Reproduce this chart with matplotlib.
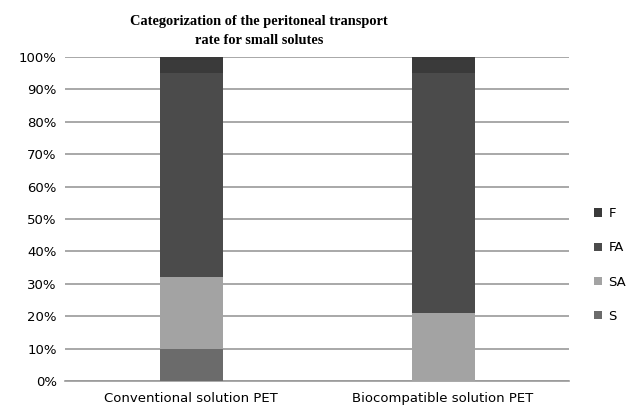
import matplotlib.pyplot as plt
import numpy as np

groups = ["Conventional solution PET", "Biocompatible solution PET"]
series = ["S", "SA", "FA", "F"]
s_vals = [10, 0]
sa_vals = [22, 21]
fa_vals = [63, 74]
f_vals = [5, 5]
colors = ["#6b6b6b", "#a3a3a3", "#4b4b4b", "#3a3a3a"]

fig = plt.figure(figsize=(6.34, 4.11), dpi=100)
ax = fig.add_axes([65/634, 30/411, (569-65)/634, (381-57)/411])

x = np.arange(len(groups))
bottom = np.zeros(len(groups))
bars = []
for name, vals, c in zip(series, [s_vals, sa_vals, fa_vals, f_vals], colors):
    b = ax.bar(x, vals, 0.25, bottom=bottom, color=c, label=name, zorder=3)
    bars.append(b)
    bottom = bottom + np.array(vals)

ax.set_xlim(-0.5, 1.5)
ax.set_ylim(0, 100)
ax.set_yticks(np.arange(0, 101, 10))
ax.set_yticklabels([f"{v}%" for v in range(0, 101, 10)], fontsize=9.5)
ax.set_xticks(x)
ax.set_xticklabels(groups, fontsize=9.5)
ax.tick_params(axis="both", length=0, pad=6)
ax.tick_params(axis="x", pad=8)
ax.yaxis.grid(True, color="#9a9a9a", linewidth=1.2, zorder=0)
for s in ["top", "right", "left"]:
    ax.spines[s].set_visible(False)
ax.spines["bottom"].set_color("#9a9a9a")
ax.spines["bottom"].set_linewidth(1.2)

# title sits left of the axes centre in the original
fig.text(259/634, 1 - 31/411, "Categorization of the peritoneal transport\nrate for small solutes",
         ha="center", va="center", fontsize=10.4, fontweight="bold",
         family="Liberation Serif", linespacing=1.6)

handles = bars[::-1]
labels = series[::-1]
fig.legend(handles, labels, loc="center left", bbox_to_anchor=(582/634, 1 - 265/411),
           frameon=False, fontsize=9.5, handlelength=0.6, handleheight=0.6,
           labelspacing=1.6, handletextpad=0.5)

fig.savefig("out.png", dpi=100)
